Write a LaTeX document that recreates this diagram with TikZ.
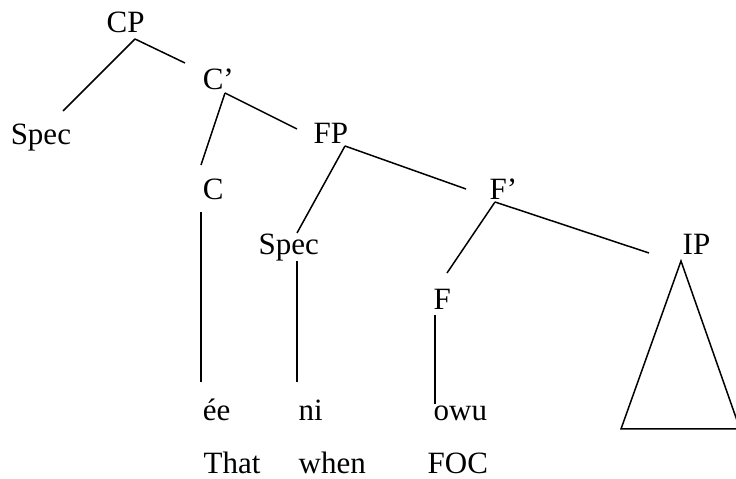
\documentclass[tikz,border=0pt]{standalone}
\usepackage{fontspec}
\setmainfont{Liberation Serif}

\begin{document}
\begin{tikzpicture}[-,x=0.4pt,y=-0.4pt,line width=0.6pt,
		tree node/.style={anchor=base west,inner sep=0pt,font=\fontsize{12.4}{15}\selectfont}]
		\useasboundingbox (0,0) rectangle (736,479);
		\clip (0,0) rectangle (736,479);
		
		\node[tree node] (cp) at (106,33) {CP};
		\node[tree node] (spec1) at (10,145) {Spec};
		\node[tree node] (cbar) at (202,90) {C’};
		\node[tree node] (c) at (202,200) {C};
		\node[tree node] (fp) at (313,144) {FP};
		\node[tree node] (spec2) at (258,255) {Spec};
		\node[tree node] (fbar) at (489,200) {F’};
		\node[tree node] (f) at (433,310) {F};
		\node[tree node] (ip) at (682,255) {IP};
		
		\node[tree node] (ee) at (202,421) {ée};
		\node[tree node] (ni) at (298,421) {ni};
		\node[tree node] (owu) at (433,421) {owu};
		\node[tree node] (that) at (203,474) {That};
		\node[tree node] (when) at (298,474) {when};
		\node[tree node] (foc) at (427,474) {FOC};
		
		% branch points
		\coordinate (cp-d) at (135,39);
		\coordinate (spec1-u) at (63,111);
		\coordinate (cbar-u) at (185,63);
		\coordinate (cbar-d) at (225,93);
		\coordinate (c-u) at (201,165);
		\coordinate (c-d) at (201,212);
		\coordinate (fp-u) at (297,129);
		\coordinate (fp-d) at (345,146);
		\coordinate (spec2-u) at (297,233);
		\coordinate (spec2-d) at (297,261);
		\coordinate (fbar-u) at (466,189);
		\coordinate (fbar-d) at (495,202);
		\coordinate (f-u) at (447,273);
		\coordinate (f-d) at (435,315);
		\coordinate (ip-u) at (649,253);
		\coordinate (ee-u) at (201,382);
		\coordinate (ni-u) at (297,382);
		\coordinate (owu-u) at (435,404);
		
		% triangle under IP
		\coordinate (tri-top) at (681,261);
		\coordinate (tri-l) at (621,429);
		\coordinate (tri-r) at (740,429);
		
		\path[draw]
		(cp-d) edge (spec1-u)
		(cp-d) edge (cbar-u)
		(cbar-d) edge (c-u)
		(cbar-d) edge (fp-u)
		(c-d) edge (ee-u)
		(fp-d) edge (spec2-u)
		(fp-d) edge (fbar-u)
		(spec2-d) edge (ni-u)
		(fbar-d) edge (f-u)
		(fbar-d) edge (ip-u)
		(f-d) edge (owu-u)
		;
		\draw (tri-top) -- (tri-l) -- (tri-r) -- cycle;
		\end{tikzpicture}
\end{document}
